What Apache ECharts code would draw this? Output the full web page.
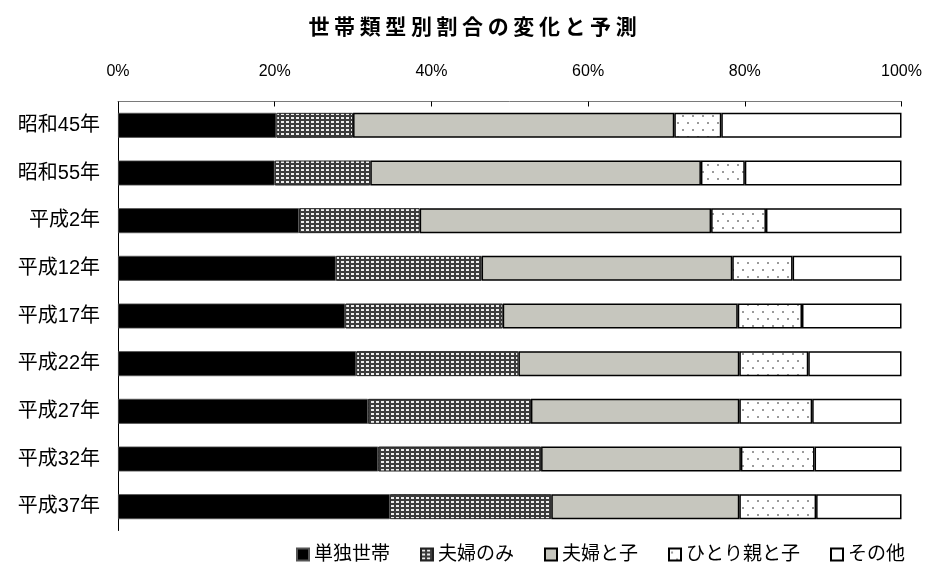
<!DOCTYPE html>
<html>
<head>
<meta charset="utf-8">
<script src="https://cdn.jsdelivr.net/npm/echarts@6/dist/echarts.min.js"></script>
<style>
  html, body { margin: 0; padding: 0; background: #fff; }
  #chart { width: 926px; height: 567px; }
</style>
</head>
<body>
<div id="chart"></div>
<script>
// Household type shares (%) by survey year, top to bottom
const categories = ['昭和45年', '昭和55年', '平成2年', '平成12年', '平成17年', '平成22年', '平成27年', '平成32年', '平成37年'];
const seriesNames = ['単独世帯', '夫婦のみ', '夫婦と子', 'ひとり親と子', 'その他'];
const singleHouse = [20.2, 20.0, 23.1, 27.8, 29.0, 30.4, 31.9, 33.2, 34.7];
const coupleOnly = [9.8, 12.2, 15.4, 18.6, 20.1, 20.7, 20.8, 20.8, 20.6];
const coupleChild = [41.0, 42.2, 37.2, 32.0, 30.0, 28.2, 26.6, 25.5, 24.0];
const singleParent = [6.0, 5.6, 7.0, 7.7, 8.2, 8.8, 9.3, 9.4, 9.8];
const otherHouse = [23.0, 20.0, 17.3, 13.9, 12.7, 11.9, 11.4, 11.1, 10.9];
const titleText = '世帯類型別割合の変化と予測';

// Small tiled fills: dark with light squares, white with grey dots
function makeTile(w, h, bg, fg, dots, dw, dh) {
  const c = document.createElement('canvas');
  c.width = w; c.height = h;
  const ctx = c.getContext('2d');
  ctx.fillStyle = bg; ctx.fillRect(0, 0, w, h);
  ctx.fillStyle = fg;
  dots.forEach(([x, y]) => ctx.fillRect(x, y, dw, dh));
  return { image: c, repeat: 'repeat' };
}
const denseFill = makeTile(5, 4, '#3c3c3c', '#ededed', [[1, 1]], 3, 2);
const sparseFill = makeTile(10, 14, '#ffffff', '#9a9a9a', [[2, 3], [7, 10]], 2, 2);

const fills = ['#000000', denseFill, '#c6c6be', sparseFill, '#ffffff'];
const borders = [
  { borderColor: '#555', borderWidth: 0.8 },
  { borderColor: '#222', borderWidth: 1 },
  { borderColor: '#000', borderWidth: 1.5 },
  { borderColor: '#000', borderWidth: 1.5 },
  { borderColor: '#000', borderWidth: 1.5 }
];
const values = [singleHouse, coupleOnly, coupleChild, singleParent, otherHouse];

const FONT = '"Liberation Sans", "Noto Sans CJK JP", sans-serif';

// Title drawn character by character for wide tracking
const pitch = 25.6, firstX = 319;
const titleGraphics = titleText.split('').map((ch, i) => ({
  type: 'text',
  x: firstX + i * pitch,
  y: 26,
  style: {
    text: ch,
    font: 'bold 21px "Noto Sans CJK JP", sans-serif',
    fill: '#000',
    align: 'center',
    verticalAlign: 'middle'
  }
}));

const chart = echarts.init(document.getElementById('chart'), null, { renderer: 'canvas' });
chart.setOption({
  animation: false,
  backgroundColor: '#fff',
  graphic: titleGraphics,
  grid: { left: 118, right: 24.5, top: 101.5, bottom: 36.5, containLabel: false },
  legend: {
    data: seriesNames,
    left: 291,
    top: 540,
    itemWidth: 12,
    itemHeight: 12,
    itemGap: 30,
    icon: 'rect',
    textStyle: { fontSize: 19, color: '#000', fontFamily: FONT }
  },
  xAxis: {
    type: 'value',
    position: 'top',
    min: 0,
    max: 100,
    interval: 20,
    axisLine: { show: true, lineStyle: { color: '#7a7a7a', width: 1 } },
    axisTick: { show: true, inside: true, length: 5, lineStyle: { color: '#000' } },
    splitLine: { show: false },
    axisLabel: { formatter: '{value}%', fontSize: 16, color: '#000', fontFamily: FONT, margin: 22 }
  },
  yAxis: {
    type: 'category',
    inverse: true,
    data: categories,
    axisLine: { show: true, lineStyle: { color: '#000', width: 1 } },
    axisTick: { show: false },
    axisLabel: { fontSize: 20, color: '#000', fontFamily: FONT, margin: 18 }
  },
  series: seriesNames.map((name, i) => ({
    name: name,
    type: 'bar',
    stack: 'total',
    barWidth: 25,
    data: values[i],
    itemStyle: Object.assign({ color: fills[i] }, borders[i])
  }))
});
</script>
</body>
</html>
